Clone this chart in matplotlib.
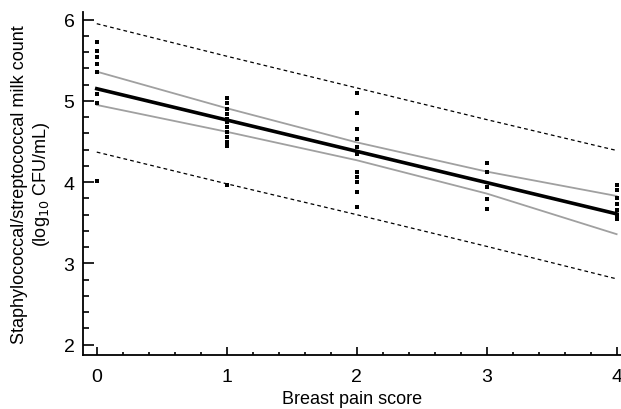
import matplotlib
matplotlib.use("Agg")
import matplotlib.pyplot as plt
from matplotlib.ticker import MultipleLocator
import numpy as np

plt.rcParams['font.family'] = ['Liberation Sans Narrow', 'Liberation Sans', 'DejaVu Sans']

# Observed data (breast pain score vs log10 count)
score0 = [5.73, 5.61, 5.54, 5.46, 5.36, 5.09, 4.97, 4.02]
score1 = [5.03, 4.97, 4.90, 4.84, 4.78, 4.74, 4.68, 4.62, 4.55, 4.50, 4.45, 3.97]
score2 = [5.10, 4.85, 4.66, 4.53, 4.43, 4.35, 4.13, 4.06, 4.00, 3.88, 3.70]
score3 = [4.24, 4.12, 3.94, 3.79, 3.67]
score4 = [3.97, 3.90, 3.80, 3.73, 3.66, 3.60, 3.55]
groups = [score0, score1, score2, score3, score4]

# Regression line, confidence and prediction bands
band_x = [0, 1, 2, 3, 4]
fit_y = [5.15, 4.765, 4.38, 3.995, 3.61]
ci_upper = [5.36, 4.91, 4.49, 4.13, 3.83]
ci_lower = [4.95, 4.62, 4.27, 3.86, 3.36]
pi_upper = [5.95, 5.55, 5.16, 4.77, 4.39]
pi_lower = [4.37, 3.98, 3.60, 3.21, 2.81]

xticks = [0, 1, 2, 3, 4]
yticks = [2, 3, 4, 5, 6]

fig = plt.figure(figsize=(6.21, 4.10), dpi=100)
ax = fig.add_axes([0.1332, 0.1317, 0.866, 0.836])

for xv, ys in zip(xticks, groups):
    ax.plot([xv] * len(ys), ys, linestyle='none', marker='s', markersize=3.4,
            color='black', markeredgewidth=0, zorder=4)

ax.plot(band_x, pi_upper, color='black', lw=0.9, ls=(0, (3, 2.5)), zorder=2)
ax.plot(band_x, pi_lower, color='black', lw=0.9, ls=(0, (3, 2.5)), zorder=2)
ax.plot(band_x, ci_upper, color='#a0a0a0', lw=1.3, zorder=2)
ax.plot(band_x, ci_lower, color='#a0a0a0', lw=1.3, zorder=2)
ax.plot(band_x, fit_y, color='black', lw=2.6, zorder=3)

ax.set_xlim(-0.108, 4.03)
ax.set_ylim(1.873, 6.091)
ax.set_xticks(xticks)
ax.set_yticks(yticks)
ax.xaxis.set_minor_locator(MultipleLocator(0.2))
ax.yaxis.set_minor_locator(MultipleLocator(0.2))
ax.tick_params(axis='both', which='major', direction='in', width=1.2, labelsize=14)
ax.tick_params(axis='y', which='major', length=8, pad=6)
ax.tick_params(axis='x', which='major', length=6, pad=9.5)
ax.tick_params(axis='y', which='minor', direction='in', length=4.5, width=1.2)
ax.tick_params(axis='x', which='minor', direction='in', length=2.5, width=1.2)
for s in ['top', 'right']:
    ax.spines[s].set_visible(False)
for s in ['left', 'bottom']:
    ax.spines[s].set_linewidth(1.3)

ax.set_xlabel('Breast pain score', fontsize=13, labelpad=3.5)
ax.set_ylabel('Staphylococcal/streptococcal milk count\n(log$_{10}$ CFU/mL)', fontsize=13,
              labelpad=8, linespacing=1.2)

fig.savefig('out.png', dpi=100)
